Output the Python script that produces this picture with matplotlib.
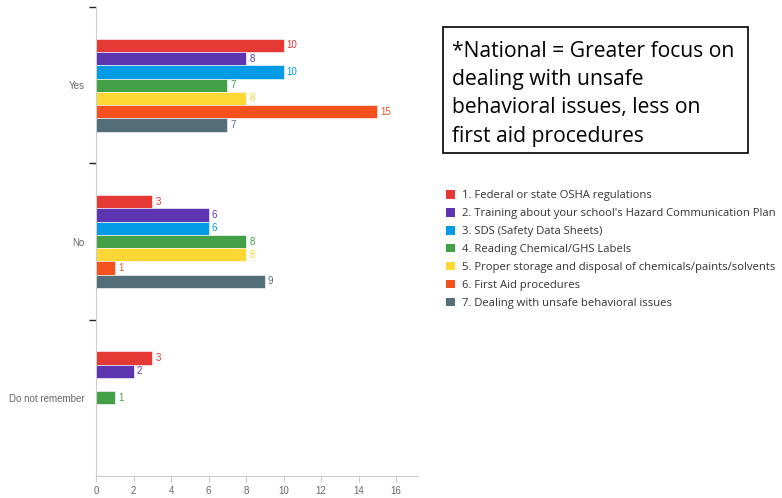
import matplotlib
matplotlib.use("Agg")
import matplotlib.pyplot as plt
from matplotlib.patches import Rectangle, Patch
import numpy as np

categories = ["Yes", "No", "Do not remember"]
series_names = [
    "1. Federal or state OSHA regulations",
    "2. Training about your school's Hazard Communication Plan",
    "3. SDS (Safety Data Sheets)",
    "4. Reading Chemical/GHS Labels",
    "5. Proper storage and disposal of chemicals/paints/solvents",
    "6. First Aid procedures",
    "7. Dealing with unsafe behavioral issues",
]
values = [
    [10, 3, 3],
    [8, 6, 2],
    [10, 6, 0],
    [7, 8, 1],
    [8, 8, 0],
    [15, 1, 0],
    [7, 9, 0],
]
colors = ["#E53935", "#5E35B1", "#039BE5", "#43A047", "#FDD835", "#F4511E", "#546E7A"]
xticks = [0, 2, 4, 6, 8, 10, 12, 14, 16]
note = "*National = Greater focus on\ndealing with unsafe\nbehavioral issues, less on\nfirst aid procedures"

W, H = 782, 498
fig = plt.figure(figsize=(W / 100, H / 100), dpi=100)
ax = fig.add_axes([96 / W, 1 - 476 / H, (418 - 96) / W, (476 - 7) / H])

n = len(values)
bh = 0.085
y = np.arange(len(categories))
for i, (vals, c) in enumerate(zip(values, colors)):
    pos = y + (i - (n - 1) / 2) * bh
    ax.barh(pos, vals, height=bh, color=c, edgecolor="white", linewidth=0.4)
    for p, v in zip(pos, vals):
        if v:
            ax.text(v + 0.17, p, str(v), color=c, fontsize=7, va="center", ha="left",
                    family="Liberation Sans")

ax.set_xlim(0, 17.17)
ax.set_ylim(len(categories) - 0.5, -0.5)
ax.set_xticks(xticks)
ax.set_xticklabels([str(t) for t in xticks])
ax.set_yticks(y)
ax.set_yticklabels(categories)
ax.set_yticks([-0.5, 0.5, 1.5], minor=True)
ax.tick_params(axis="y", which="major", length=0, labelsize=7, labelcolor="#666666", pad=8)
ax.tick_params(axis="y", which="minor", length=5, width=1, color="#222222")
ax.tick_params(axis="x", length=4, color="#cccccc", labelsize=7, labelcolor="#666666")
for lab in ax.get_yticklabels() + ax.get_xticklabels():
    lab.set_family("Liberation Sans")
for s in ["top", "right"]:
    ax.spines[s].set_visible(False)
ax.spines["left"].set_color("#cccccc")
ax.spines["bottom"].set_color("#cccccc")

handles = [Patch(facecolor=c, edgecolor="none") for c in colors]
fig.legend(handles, series_names, loc="upper left", bbox_to_anchor=(446 / W, 1 - 190 / H),
           frameon=False, handlelength=0.8, handleheight=0.8,
           handletextpad=0.6, labelspacing=0.6, borderaxespad=0, borderpad=0,
           labelcolor="#333333", prop={"family": "Open Sans", "size": 8.1})

fig.patches.append(Rectangle((443 / W, 1 - 153 / H), (748 - 443) / W, (153 - 27) / H,
                             transform=fig.transFigure, facecolor="white",
                             edgecolor="black", linewidth=1.2))
fig.text(452 / W, 1 - 41 / H, note, ha="left", va="top", fontsize=15.2,
         family="Open Sans", linespacing=1.45, color="black")

fig.savefig("out.png", dpi=100)
